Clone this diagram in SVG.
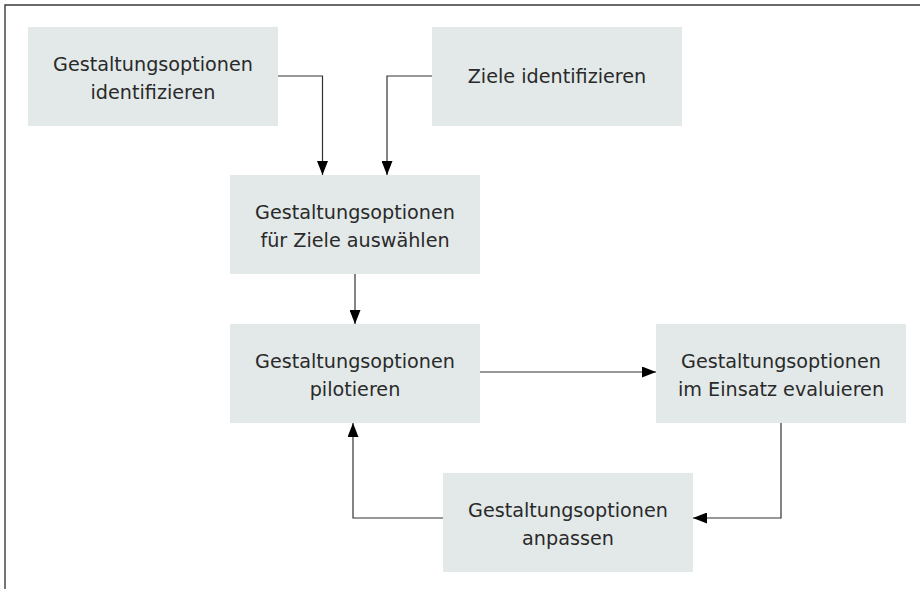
<svg xmlns="http://www.w3.org/2000/svg" width="920" height="589" viewBox="0 0 920 589">
  <style>
    .box { fill: #e2e9e8; }
    .lbl { font-family: "DejaVu Sans", "Liberation Sans", sans-serif; font-size: 19.2px; fill: #2a2a2a; text-anchor: middle; }
    .conn { fill: none; stroke: #333; stroke-width: 1.2; }
    .frame { fill: none; stroke: #3a3a3a; stroke-width: 1.4; }
  </style>
  <defs>
    <marker id="arrow" markerUnits="userSpaceOnUse" markerWidth="14" markerHeight="11" refX="14" refY="5.5" orient="auto">
      <path d="M0,0 L14,5.5 L0,11 Z" fill="#000"/>
    </marker>
  </defs>
  <rect width="920" height="589" fill="#fff"/>
  <path class="frame" d="M5,589 V5 H920"/>

  <g id="n1">
    <rect class="box" x="28" y="27" width="250" height="99"/>
    <text class="lbl" x="153" y="71">Gestaltungsoptionen</text>
    <text class="lbl" x="153" y="99">identifizieren</text>
  </g>
  <g id="n2">
    <rect class="box" x="432" y="27" width="250" height="99"/>
    <text class="lbl" x="557" y="83">Ziele identifizieren</text>
  </g>
  <g id="n3">
    <rect class="box" x="230" y="175" width="250" height="99"/>
    <text class="lbl" x="355" y="219">Gestaltungsoptionen</text>
    <text class="lbl" x="355" y="247">für Ziele auswählen</text>
  </g>
  <g id="n4">
    <rect class="box" x="230" y="324" width="250" height="99"/>
    <text class="lbl" x="355" y="368">Gestaltungsoptionen</text>
    <text class="lbl" x="355" y="396">pilotieren</text>
  </g>
  <g id="n5">
    <rect class="box" x="656" y="324" width="250" height="99"/>
    <text class="lbl" x="781" y="368">Gestaltungsoptionen</text>
    <text class="lbl" x="781" y="396">im Einsatz evaluieren</text>
  </g>
  <g id="n6">
    <rect class="box" x="443" y="473" width="250" height="99"/>
    <text class="lbl" x="568" y="517">Gestaltungsoptionen</text>
    <text class="lbl" x="568" y="545">anpassen</text>
  </g>

  <g id="connectors">
    <path class="conn" d="M278,76 H322.5 V175" marker-end="url(#arrow)"/>
    <path class="conn" d="M432,76 H387 V175" marker-end="url(#arrow)"/>
    <path class="conn" d="M355,274 V324" marker-end="url(#arrow)"/>
    <path class="conn" d="M480,372 H656" marker-end="url(#arrow)"/>
    <path class="conn" d="M781,423 V518 H693" marker-end="url(#arrow)"/>
    <path class="conn" d="M443,518 H353 V423" marker-end="url(#arrow)"/>
  </g>
</svg>
